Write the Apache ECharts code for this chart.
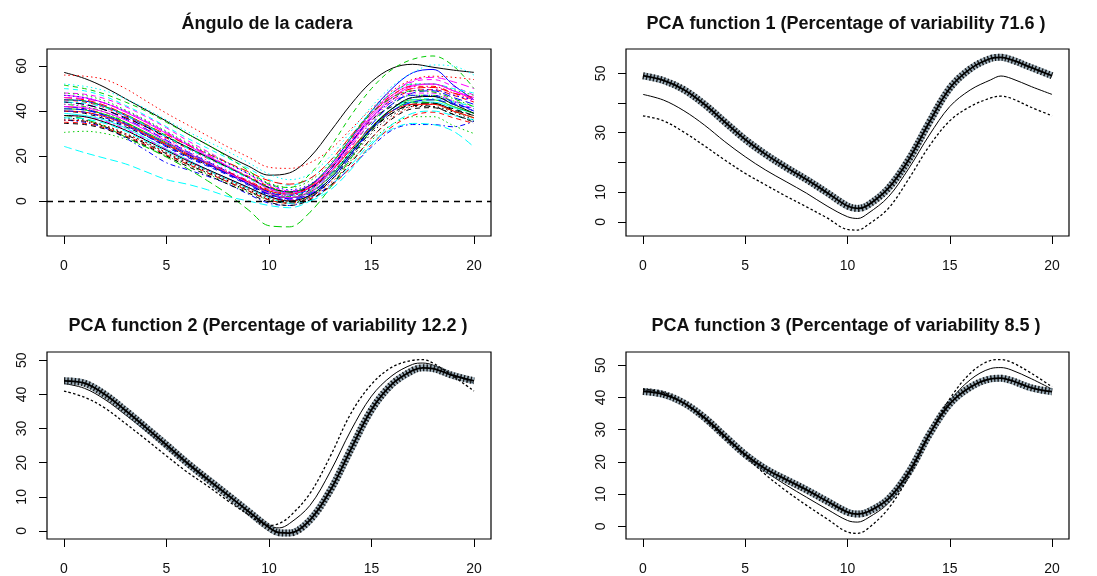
<!DOCTYPE html>
<html><head><meta charset="utf-8">
<script src="https://cdn.jsdelivr.net/npm/echarts@6/dist/echarts.min.js"></script>
<style>html,body{margin:0;padding:0;background:#fff}#c{width:1097px;height:576px}</style>
</head><body><div id="c"></div>
<script>
// ---------- DATA ----------
const titles = ['Ángulo de la cadera',
  'PCA function 1 (Percentage of variability 71.6 )',
  'PCA function 2 (Percentage of variability 12.2 )',
  'PCA function 3 (Percentage of variability 8.5 )'];
const xTicks = [0, 5, 10, 15, 20];
const hipYTicks = [0, 20, 40, 60];
const pcaYTicks = [0, 10, 20, 30, 40, 50];
const pca1YLabels = [0, 10, 30, 50];

const hipX = [0,1,2,3,4,5,6,7,8,9,10,11,12,13,14,15,16,17,18,19,20];
const hipCurves = [
  [57.2,54.5,50.5,45.5,40.5,35.5,30,25,20,15.5,11.5,12.5,19.5,31,43,53,59,60.8,59.5,58.2,57.2],
  [45,44,41.5,37.5,33,28,23.5,19,15,11,6.5,4,7,15,26,37,45,49,49.5,47,44],
  [30.5,31,30,27.5,24,20,16,12,8,4,0.5,-1,2,9,18,27,34,37.5,37.5,33.5,30],
  [36,35,32.5,28,22.5,17,14,11,7.5,3,-1,-2,1.5,7,15,24,31.5,34,34,33,35.5],
  [24.3,21.5,19,16.5,13,9.5,7.5,5,2,0,-2,-3,0,6.5,16,26,32,34.5,34,31,24],
  [47,46,43.5,39.5,35,30,25,20,15.5,10.5,5.5,3,6,14,26,38,47,51.5,52,49,46],
  [40,39,36.5,33,29,24.5,20,16,12,7.5,3,1.5,5,14,26,36,42,44,43.5,41,38],
  [56,55.5,54,50,44.5,39,34,29,24,19.5,15,14.5,17,23,32,41,49,54,55.5,55,54],
  [43,42,39.5,35,30,25,20.5,16.5,12.5,8,4,2,5,13,24,35,43,47,47,44.5,42],
  [44,43,40.5,36.5,32,27,22,17.5,13,8.5,4,1.5,3.5,11,22,34,43,48,49,46,43],
  [39,38,36,32.5,28,23,18.5,14,10,6,2,0,2.5,10,21,32,40,44,44,41.5,39],
  [48,47.5,45.5,42,37.5,32.5,27,22,17,12,7,4.5,7,15,27,39,48,53,54,51,47],
  [37,36,33.5,30,26,21.5,17,13,9,5,1,-0.5,2,9,19,30,38,42,42,39.5,36],
  [42,41,38.5,34.5,30,25.5,21,17,13,9,5,3.5,6.5,15,27,39,47,51,51,48,45],
  [38,36.5,33,28.5,24,19.5,14.5,9,3,-4,-11,-11.5,-5,6,19,31.5,40,44,43.5,40,37],
  [45,44.5,42,38,33.5,28.5,24,19.5,15,10.5,6,4,7,16,28,40,50,57,58.5,51.5,45],
  [50,49,46.5,42.5,38,33,28,23.5,19,14.5,9.5,7,10,18,29,40,48,52,52,50,48],
  [43,42.5,40.5,37,32.5,27.5,22.5,18,13.5,9,4.5,2.5,5.5,13,24,36,45,50,50.5,47.5,44],
  [36,35.5,33,29.5,25.5,21,16.5,12.5,8.5,4.5,0.5,-1,1.5,9,20,31,39,42.5,42,38.5,35.5],
  [46,45,42.5,38.5,34,29.5,25,21,17,13,9,7.5,10,18,29,39,46,50,50.5,48,46],
  [41,40.5,38.5,35,30.5,26,21.5,17,12.5,8,3.5,1.5,4,11,22,33,41,45,45,42,39],
  [42,41,38,34,29,24,19.5,15.5,11.5,7,2.5,0.5,2.5,9,20,32,41,46,46.5,43.5,40],
  [52,51,49,45.5,41,36,31,26.5,22,17,12,9.5,12,20,31,42,51,57,60.5,60,56],
  [38,37.5,35.5,32,27.5,23,18.5,14,10,6,2,0.5,3.5,12,24,35.5,44,48,48,44.5,41],
  [44,43,40.5,37,33,28.5,24,19.5,15,10.5,6,4,6,12,22,32,39,43,43.5,40.5,38],
  [40,39.5,37.5,34,29.5,25,20.5,16.5,12.5,8.5,4.5,3,6,13,23,33,40,43,43,40,37],
  [51.5,50,47.5,44,40,35,30,25,19.5,13.5,7.5,6,12,24,38,50,58.5,63,64.5,60,50],
  [47,46,43.5,40,35.5,30.5,25.5,21,16.5,12,7.5,5,7.5,15,26,37,45,49,49.5,47,45],
  [44,43.5,41.5,38,33.5,28.5,23.5,19,14.5,10,5.5,3,5,12,22,33,41,45,45.5,44,42],
  [46,45.5,43.5,40,35.5,30.5,25.5,20.5,15.5,10.5,5.5,3.5,6.5,15,27,39,48,53.5,55,53,50],
  [38,37.5,35,31.5,27,22.5,18,14,10,6,2,0,2.5,10,21,32.5,41,46,46.5,43,39],
  [35,34.5,32.5,29,25,20.5,16.5,12.5,8.5,4.5,0.5,-1,1,6.5,15,25,33,38,39.5,37,34.5],
  [48,47,44.5,40.5,36,31,26,21.5,17,12.5,8,6,9,17,28.5,40,48,52,52,49.5,47],
  [40,39.5,37,33.5,29,24.5,20,16,12,8,4,2.5,5.5,14,26,37,44,47,47,44,40],
  [37,36.5,34.5,31,26.5,22,17.5,13.5,9.5,5.5,1.5,-1,0,5,14,25,34,39,40,38,36],
  [42,41.5,39.5,36,31.5,26.5,21.5,17,12.5,8,3.5,1.5,4.5,13,25,37,46,51,52,49,45],
  [34.5,34,32,28.5,24.5,20,15.5,11.5,7.5,3.5,-0.5,-2,0.5,7,17,28,36.5,41,41.5,38.5,35],
  [36,35.5,33.5,30,26,21.5,17.5,13.5,9.5,5.5,1.5,0,2,8,17.5,28,37,42,43,40,37],
  [45,44.5,42,38.5,34,29,24,19.5,15,10.5,6,4,7,16,28,39,46,49,48.5,45.5,42],
  [41,40.5,38,34.5,30,25.5,21,16.5,12,7.5,3,1,3,10,21,32,40,44,45,43,41]
];

const pcaX = [0,1,2,3,4,5,6,7,8,9,10,10.5,11,12,13,14,15,16,17,17.5,18,19,20];
const pca1Mean  = [42.9,41.0,37.4,32.6,27.0,21.9,17.4,13.5,9.6,5.3,1.7,1.1,2.8,8.4,18.0,29.2,38.8,44.4,47.8,49.1,48.3,45.5,42.9];
const pca1Plus  = [49.2,47.6,44.5,39.6,33.6,27.7,22.7,18.3,14.2,9.8,5.3,4.5,5.6,11.3,21.0,33.5,45.0,51.5,55.0,55.4,54.6,51.9,49.2];
const pca1Minus = [35.7,34.0,30.2,25.6,20.8,16.3,12.4,8.6,5.0,1.3,-2.6,-2.8,-1.0,4.5,14.5,25.5,34.0,38.8,41.7,42.3,41.6,38.5,35.7];
const pca2Mean  = [43.2,41.8,38.5,34.0,29.3,24.5,19.6,14.8,10.3,5.8,1.6,0.9,2.2,7.5,17.5,29.5,39.5,45.5,48.8,49.2,48.6,45.8,43.3];
const pca2Plus  = [44.0,43.3,40.0,35.3,30.3,25.2,20.0,15.2,10.5,5.7,1.0,-0.5,-0.6,3.2,12.0,24.0,35.5,43.0,47.0,47.8,47.6,45.5,44.0];
const pca2Minus = [41.0,39.2,36.0,31.5,26.8,22.0,17.3,13.2,8.8,4.8,1.6,2.2,4.2,11.0,22.0,34.5,43.0,48.0,50.0,50.2,49.2,45.3,41.0];
const pca3Mean  = [42.3,41.3,38.2,33.5,27.8,22.2,17.0,12.8,9.0,5.3,1.8,1.3,2.6,7.2,16.3,28.5,38.8,45.5,49.0,49.3,48.6,45.8,42.6];
const pca3Plus  = [41.9,41.0,38.3,33.8,28.0,22.3,17.8,14.5,11.3,7.8,4.4,3.8,4.5,8.5,16.8,28.5,38.0,43.2,45.8,46.0,45.3,43.0,41.8];
const pca3Minus = [42.6,41.6,38.2,33.3,27.4,21.8,16.0,11.0,6.5,2.3,-1.8,-2.2,-0.7,5.5,15.5,28.3,39.6,47.5,51.5,51.8,51.0,47.5,43.3];

// ---------- STYLE / LAYOUT ----------
const FONT = '"Liberation Sans", Arial, sans-serif';
const palette = ['#000000','#FF0000','#00CD00','#0000FF','#00FFFF','#FF00FF'];
const ltys = ['solid',[5,4],[1.5,3],[1.5,3,5,3],[8,4]];
const grids = [
  {left:47, top:49, width:444, height:187},
  {left:626, top:49, width:443, height:187},
  {left:47, top:352, width:444, height:187},
  {left:626, top:352, width:443, height:187}
];
const yRanges = [[-15.57,67.6],[-4.8,58.2],[-2.35,52.44],[-3.95,54.14]];
const yTickSets = [hipYTicks, pcaYTicks, pcaYTicks, pcaYTicks];
const yLabelSets = [hipYTicks, pca1YLabels, pcaYTicks, pcaYTicks];
const titlePos = [[267,15],[846,15],[268,317],[846,317]];

const pairs = (xs, ys) => xs.map((x,i)=>[x, ys[i]]);

const xAxes = grids.map((g,i)=>({
  type:'value', gridIndex:i, min:-0.83, max:20.83, position:'bottom',
  axisLine:{show:false, onZero:false}, splitLine:{show:false},
  axisTick:{show:true, inside:false, customValues:xTicks, length:8, lineStyle:{color:'#000', width:1}},
  axisLabel:{customValues:xTicks, margin:23, fontSize:14, color:'#111', fontFamily:FONT}
}));
const yAxes = grids.map((g,i)=>({
  type:'value', gridIndex:i, min:yRanges[i][0], max:yRanges[i][1], position:'left',
  axisLine:{show:false, onZero:false}, splitLine:{show:false},
  axisTick:{show:true, inside:false, customValues:yTickSets[i], length:8, lineStyle:{color:'#000', width:1}},
  axisLabel:{customValues:yLabelSets[i], rotate:90, margin:18, fontSize:14, color:'#111', fontFamily:FONT}
}));

const series = [];
hipCurves.forEach((c,i)=>{
  series.push({
    type:'line', xAxisIndex:0, yAxisIndex:0, data:pairs(hipX,c),
    smooth:0.35, showSymbol:false, silent:true,
    lineStyle:{color:palette[i%6], width:1, type:ltys[i%5]}
  });
});
series.push({
  type:'line', xAxisIndex:0, yAxisIndex:0, data:[], silent:true,
  markLine:{silent:true, symbol:'none', label:{show:false},
    lineStyle:{color:'#000', width:1.3, type:[6,5]}, data:[{yAxis:0}]}
});

function addPca(idx, mean, plus, minus){
  series.push({type:'line', xAxisIndex:idx, yAxisIndex:idx, data:pairs(pcaX,mean), smooth:0.35,
    showSymbol:false, silent:true, lineStyle:{color:'#000', width:1}});
  series.push({type:'line', xAxisIndex:idx, yAxisIndex:idx, data:pairs(pcaX,plus), smooth:0.35,
    showSymbol:false, silent:true, lineStyle:{color:'rgba(95,125,145,0.6)', width:7}});
  series.push({type:'line', xAxisIndex:idx, yAxisIndex:idx, data:pairs(pcaX,plus), smooth:0.35,
    showSymbol:false, silent:true, lineStyle:{color:'#181818', width:7, type:[1.4,2.1]}});
  series.push({type:'line', xAxisIndex:idx, yAxisIndex:idx, data:pairs(pcaX,plus), smooth:0.35,
    showSymbol:false, silent:true, lineStyle:{color:'#000', width:1.8}});
  series.push({type:'line', xAxisIndex:idx, yAxisIndex:idx, data:pairs(pcaX,minus), smooth:0.35,
    showSymbol:false, silent:true, lineStyle:{color:'#000', width:1.3, type:[2.5,2.2]}});
}
addPca(1, pca1Mean, pca1Plus, pca1Minus);
addPca(2, pca2Mean, pca2Plus, pca2Minus);
addPca(3, pca3Mean, pca3Plus, pca3Minus);

const chart = echarts.init(document.getElementById('c'), null, {renderer:'canvas'});
chart.setOption({
  animation:false,
  backgroundColor:'#fff',
  title: titles.map((t,i)=>({text:t, left:titlePos[i][0], top:titlePos[i][1], textAlign:'center', padding:0,
    textStyle:{fontSize:18, fontWeight:'bold', color:'#111', fontFamily:FONT}})),
  grid: grids.map(g=>Object.assign({show:true, borderColor:'#000', borderWidth:1.2, backgroundColor:'transparent', containLabel:false}, g)),
  xAxis: xAxes,
  yAxis: yAxes,
  series: series
});
</script></body></html>
